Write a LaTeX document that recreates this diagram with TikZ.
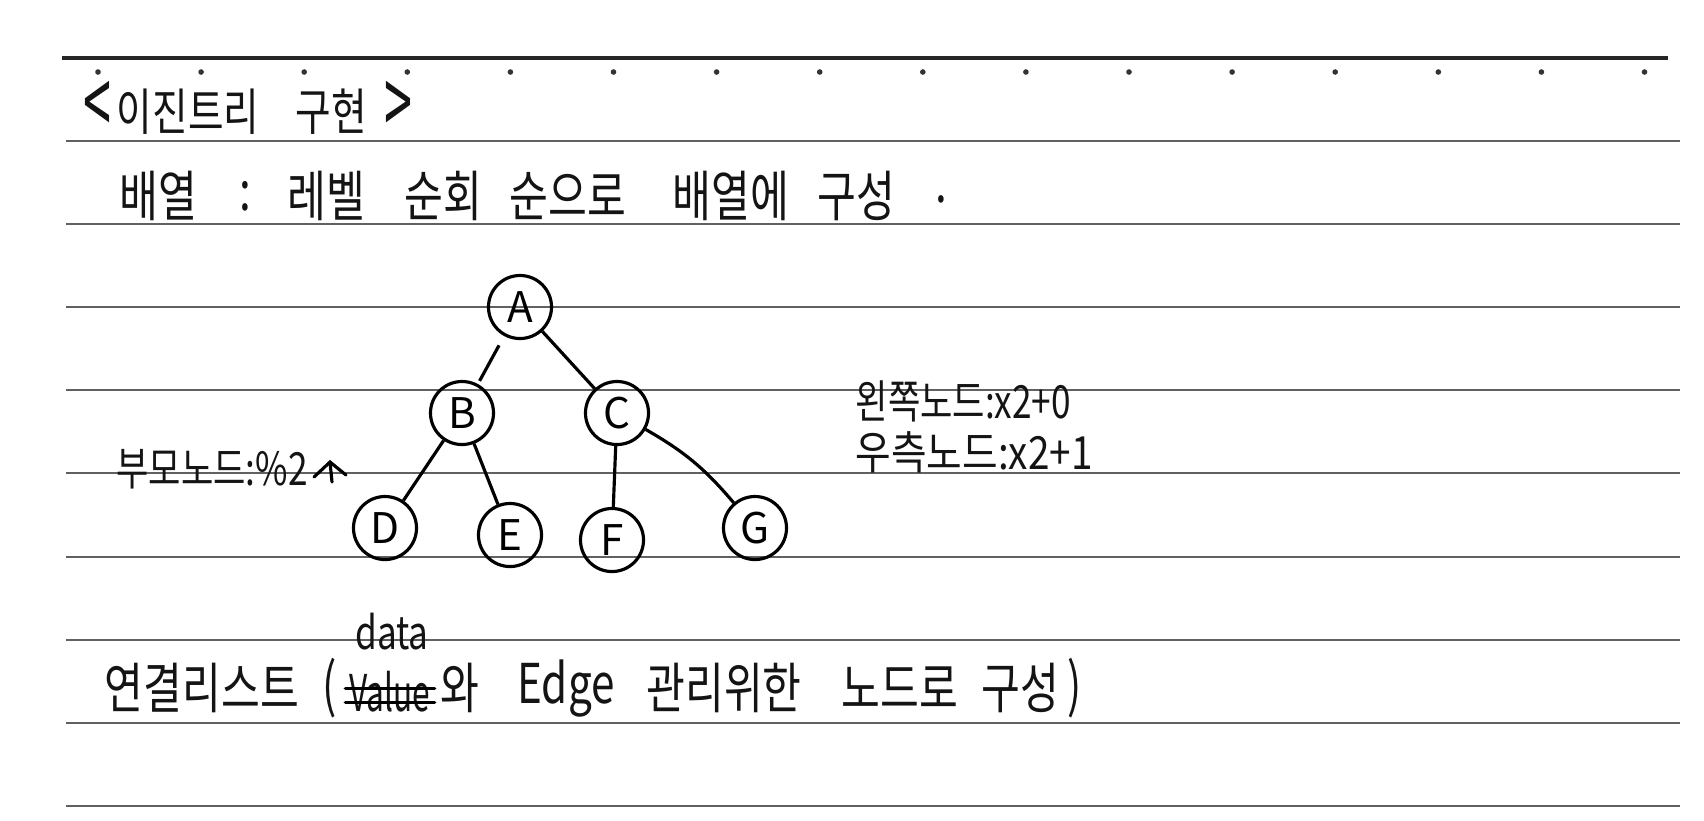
\documentclass[tikz,border=0pt]{standalone}
\usepackage{fontspec}
\setmainfont{Noto Sans CJK KR}
\newcommand\tallx[1]{\scalebox{1}[1.3]{#1}}
\begin{document}
\begin{tikzpicture}[x=0.01cm,y=-0.01cm,
  rule/.style={draw=black!62, line width=0.6pt},
  toprule/.style={draw=black!85, line width=0.9pt},
  hw/.style={inner sep=0pt, text=black!92, font=\fontsize{12}{14}\selectfont},
  hwtitle/.style={inner sep=0pt, text=black!92, font=\fontsize{11}{13}\selectfont},
  hwsmall/.style={inner sep=0pt, text=black!92, font=\fontsize{10}{12}\selectfont},
  tnode/.style={circle, draw, line width=0.9pt, minimum size=0.63cm, inner sep=0pt, font=\fontsize{12}{14}\selectfont},
  tedge/.style={line width=0.9pt},
  pen/.style={line width=0.9pt, line cap=round}]
\fill[white] (0,0) rectangle (1704,820);
\useasboundingbox (0,0) rectangle (1704,820);
% ruled paper
\draw[toprule] (62,58) -- (1668,58);
\foreach \yy in {141,224,307,390,473,557,640,723,806}
  \draw[rule] (66,\yy) -- (1680,\yy);
\foreach \k in {0,...,15}
  \fill[black!80] (98+103.1*\k,72) circle (2.8);
% title
\node[hwtitle] (t1) at (97,109) {\scalebox{1.3}[2.4]{<}};
\node[hwtitle] (t2) at (188,112) {\tallx{이진트리}};
\node[hwtitle] (t3) at (331,112) {\tallx{구현}};
\node[hwtitle] (t4) at (398,109) {\scalebox{1.3}[2.4]{>}};
% line 2
\node[hw] (w1) at (158,196) {\tallx{배열}};
\node[hw] (w2) at (245,196) {\tallx{:}};
\node[hw] (w3) at (326,196) {\tallx{레벨}};
\node[hw] (w4) at (443,196) {\tallx{순회}};
\node[hw] (w5) at (568,196) {\tallx{순으로}};
\node[hw] (w6) at (731,196) {\tallx{배열에}};
\node[hw] (w7) at (856,196) {\tallx{구성}};
\node[hw] (w8) at (941,199) {\tallx{.}};
% tree
\node[tnode] (A) at (520,307) {A};
\node[tnode] (B) at (462,413) {B};
\node[tnode] (C) at (617,413) {C};
\node[tnode] (D) at (385,528) {D};
\node[tnode] (E) at (510,535) {E};
\node[tnode] (F) at (612,540) {F};
\node[tnode] (G) at (755,528) {G};
\draw[tedge, shorten <=3pt, shorten >=1pt] (A) -- (B);
\draw[tedge] (A) -- (C);
\draw[tedge] (B) -- (D);
\draw[tedge] (B) -- (E);
\draw[tedge] (C) -- (F);
\draw[tedge] (C) to[bend left=10] (G);
% side notes
\node[hwsmall] (p1) at (212,469) {\tallx{부모노드:\%2}};
\coordinate (up) at (330,462);
\draw[pen] (314,477) -- (up) -- (346,475);
\draw[pen] (up) -- (332,482);
\node[hwsmall, anchor=west] (l1) at (855,401) {\tallx{왼쪽노드:x2+0}};
\node[hwsmall, anchor=west] (l2) at (855,452) {\scalebox{1.1}[1.3]{우측노드:x2+1}};
% linked list line
\node[hw] (b1) at (202,688) {\tallx{연결리스트}};
\node[hw] (b2) at (330,688) {\scalebox{1}[1.4]{(}};
\node[hw] (b3) at (390,692) {\scalebox{0.75}[1.2]{Value}};
\draw[pen] ([xshift=-1pt,yshift=1pt]b3.west) -- ([xshift=1pt,yshift=1pt]b3.east);
\draw[pen] ([xshift=-1pt,yshift=-3pt]b3.west) -- ([xshift=1pt,yshift=-3pt]b3.east);
\node[hwsmall] (b4) at (392,632) {\tallx{data}};
\node[hw] (b5) at (460,688) {\tallx{와}};
\node[hw] (b6) at (566,688) {\tallx{Edge}};
\node[hw] (b7) at (724,688) {\tallx{관리위한}};
\node[hw] (b8) at (900,688) {\tallx{노드로}};
\node[hw] (b9) at (1020,688) {\tallx{구성}};
\node[hw] (b10) at (1075,688) {\scalebox{1}[1.4]{)}};
\end{tikzpicture}
\end{document}
